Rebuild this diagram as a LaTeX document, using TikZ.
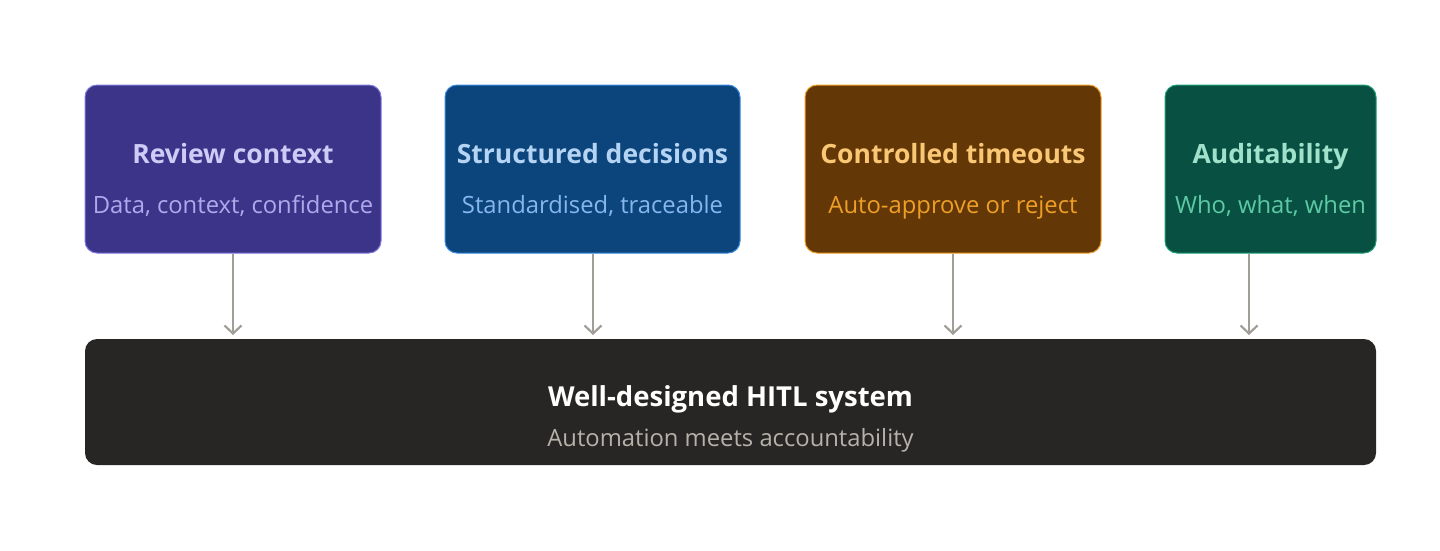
\documentclass[tikz,border=0pt]{standalone}
\usepackage{fontspec}
\setmainfont{Open Sans}
\usetikzlibrary{arrows.meta}

\definecolor{purplefill}{HTML}{3C3489}
\definecolor{purpleline}{HTML}{7F77DD}
\definecolor{purplehead}{HTML}{CECBF6}
\definecolor{purplesub}{HTML}{AFA9EC}
\definecolor{bluefill}{HTML}{0C447C}
\definecolor{blueline}{HTML}{378ADD}
\definecolor{bluehead}{HTML}{B5D4F4}
\definecolor{bluesub}{HTML}{85B7EB}
\definecolor{brownfill}{HTML}{633806}
\definecolor{brownline}{HTML}{EF9F27}
\definecolor{brownhead}{HTML}{FAC775}
\definecolor{brownsub}{HTML}{EF9F27}
\definecolor{greenfill}{HTML}{085041}
\definecolor{greenline}{HTML}{1D9E75}
\definecolor{greenhead}{HTML}{9FE1CB}
\definecolor{greensub}{HTML}{5DCAA5}
\definecolor{darkfill}{HTML}{272624}
\definecolor{darksub}{HTML}{B4B2A9}
\definecolor{arrowgray}{HTML}{A09E96}

\tikzset{
  card/.style={draw=#1line, fill=#1fill, line width=1pt, rounded corners=12pt,
    minimum height=168pt, inner sep=0pt},
  head/.style={anchor=base, font=\fontsize{26.5}{30}\selectfont\bfseries, text=#1},
  bighead/.style={anchor=base, font=\fontsize{27.5}{31}\selectfont\bfseries, text=#1},
  sub/.style={anchor=base, font=\fontsize{23.8}{27}\selectfont, text=#1},
  feed/.style={draw=arrowgray, line width=2.2pt, -{Straight Barb[length=8pt,width=17pt]}}
}

\begin{document}
\begin{tikzpicture}[x=1pt, y=-1pt]
\useasboundingbox (0,0) rectangle (1440,550);

% top row
\node[card=purple, minimum width=296pt] (review) at (233,169) {};
\node[card=blue,   minimum width=295pt] (struct) at (592.5,169) {};
\node[card=brown,  minimum width=296pt] (timeout) at (953,169) {};
\node[card=green,  minimum width=211pt] (audit) at (1270.5,169) {};

\node[head=purplehead] (reviewhead) at (233,163) {Review context};
\node[sub=purplesub] (reviewsub) at (233,213) {Data, context, confidence};
\node[head=bluehead] (structhead) at (592.5,163) {Structured decisions};
\node[sub=bluesub] (structsub) at (592.5,213) {Standardised, traceable};
\node[head=brownhead] (timeouthead) at (953,163) {Controlled timeouts};
\node[sub=brownsub] (timeoutsub) at (953,213) {Auto-approve or reject};
\node[head=greenhead] (audithead) at (1270.5,163) {Auditability};
\node[sub=greensub] (auditsub) at (1270.5,213) {Who, what, when};

% bottom bar
\node[fill=darkfill, rounded corners=12pt, minimum width=1291pt, minimum height=126pt,
  inner sep=0pt] (hitl) at (730.5,402) {};
\node[bighead=white] (hitlhead) at (730.5,406) {Well-designed HITL system};
\node[sub=darksub] (hitlsub) at (730.5,446) {Automation meets accountability};

% arrows
\coordinate (inA) at (233,335);
\coordinate (inB) at (593,335);
\coordinate (inC) at (953,335);
\coordinate (inD) at (1249,335);
\draw[feed] (review.south) -- (inA);
\draw[feed] (struct.south -| inB) -- (inB);
\draw[feed] (timeout.south) -- (inC);
\draw[feed] (audit.south -| inD) -- (inD);

\end{tikzpicture}
\end{document}
